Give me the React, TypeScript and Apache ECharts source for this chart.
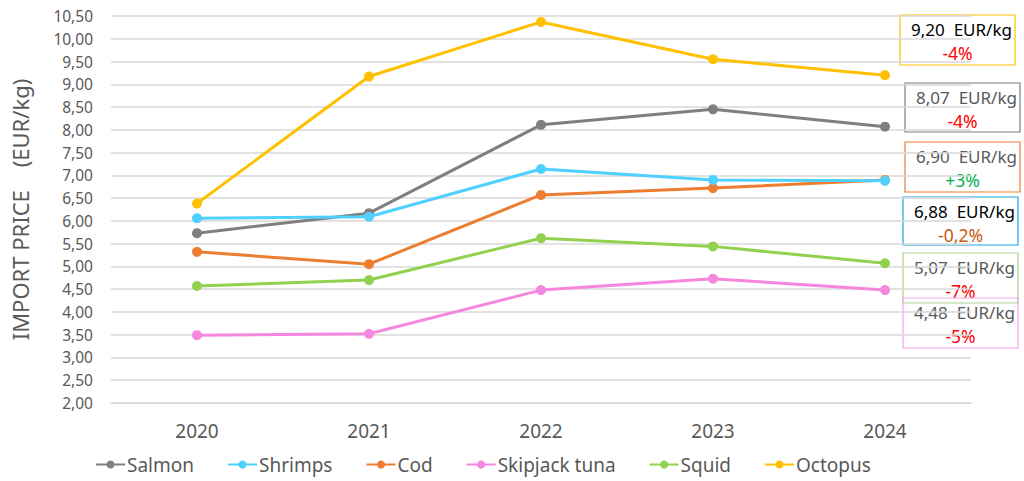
import React, { useEffect, useRef } from "react";
import * as echarts from "echarts";

const years = ["2020", "2021", "2022", "2023", "2024"];
const salmon = [5.73, 6.17, 8.11, 8.45, 8.07];
const shrimps = [6.06, 6.09, 7.14, 6.9, 6.88];
const cod = [5.32, 5.05, 6.57, 6.72, 6.9];
const tuna = [3.49, 3.52, 4.48, 4.73, 4.48];
const squid = [4.57, 4.7, 5.62, 5.44, 5.07];
const octopus = [6.38, 9.17, 10.37, 9.55, 9.2];

const seriesNames = ["Salmon", "Shrimps", "Cod", "Skipjack tuna", "Squid", "Octopus"];
const seriesData = [salmon, shrimps, cod, tuna, squid, octopus];
const seriesColors = ["#7F7F7F", "#4FD0FF", "#ED7D31", "#F587DE", "#92D050", "#FFC000"];

// annotation boxes: price label, change label
const boxPrices = ["9,20  EUR/kg", "8,07  EUR/kg", "6,90  EUR/kg", "6,88  EUR/kg", "5,07  EUR/kg", "4,48  EUR/kg"];
const boxChanges = ["-4%", "-4%", "+3%", "-0,2%", "-7%", "-5%"];
const boxBorder = ["#FFC000", "#7F7F7F", "#ED7D31", "#1CA3E3", "#A9D18E", "#F3A3E8"];
const boxPriceColor = ["#000000", "#595959", "#595959", "#000000", "#595959", "#595959"];
const boxChangeColor = ["#FF0000", "#FF0000", "#00B050", "#C55A11", "#FF0000", "#FF0000"];
const boxPos = [
  [900, 15, 115, 50],
  [905, 83, 115, 49],
  [905, 142, 115, 50],
  [903, 197, 115, 48],
  [903, 253, 115, 50],
  [903, 298, 115, 50],
];

const FONT = "Noto Sans";

export default function App() {
  const ref = useRef<HTMLDivElement>(null);
  useEffect(() => {
    if (!ref.current) return;
    const chart = echarts.init(ref.current, undefined, { renderer: "svg" });
    const graphics: any[] = [];
    boxPos.forEach((b, i) => {
      const [x, y, w, h] = b;
      graphics.push({
        type: "group",
        x,
        y,
        z: 100,
        children: [
          {
            type: "rect",
            shape: { x: 0, y: 0, width: w, height: h },
            style: { fill: "transparent", stroke: boxBorder[i], lineWidth: 1.2 },
          },
          {
            type: "text",
            x: w / 2 + 4,
            y: 14.5,
            style: {
              text: boxPrices[i],
              fill: boxPriceColor[i],
              font: `17px "${FONT}"`,
              align: "center",
              verticalAlign: "middle",
            },
          },
          {
            type: "text",
            x: w / 2,
            y: 37.5,
            style: {
              text: boxChanges[i],
              fill: boxChangeColor[i],
              font: `17.5px "${FONT}"`,
              align: "center",
              verticalAlign: "middle",
            },
          },
        ],
      });
    });

    chart.setOption({
      animation: false,
      textStyle: { fontFamily: FONT },
      grid: { left: 111, right: 53, top: 16, bottom: 78, containLabel: false },
      legend: {
        bottom: 2,
        left: 90,
        itemWidth: 29,
        itemHeight: 10,
        itemGap: 33,
        textStyle: { fontSize: 19, color: "#595959", padding: [0, 0, 0, -3] },
        data: seriesNames,
      },
      xAxis: {
        type: "category",
        data: years,
        boundaryGap: true,
        axisLine: { show: true, lineStyle: { color: "#D9D9D9", width: 1 } },
        axisTick: { show: false },
        axisLabel: { color: "#595959", fontSize: 19, margin: 18 },
      },
      yAxis: {
        type: "value",
        min: 2,
        max: 10.5,
        interval: 0.5,
        name: "IMPORT PRICE    (EUR/kg)",
        nameLocation: "middle",
        nameGap: 80,
        nameTextStyle: { fontSize: 22, color: "#595959" },
        axisLine: { show: false },
        axisTick: { show: false },
        splitLine: { lineStyle: { color: "#D9D9D9", width: 1.5 } },
        axisLabel: {
          color: "#595959",
          fontSize: 15.5,
          margin: 18,
          formatter: (v: number) => v.toFixed(2).replace(".", ","),
        },
      },
      series: seriesNames.map((n, i) => ({
        name: n,
        type: "line",
        data: seriesData[i],
        symbol: "circle",
        symbolSize: 10,
        lineStyle: { color: seriesColors[i], width: 3 },
        itemStyle: { color: seriesColors[i] },
        z: i === 1 ? 3 : 2,
      })),
      graphic: graphics,
    });
    return () => chart.dispose();
  }, []);
  return (
    <div
      ref={ref}
      style={{ width: 1024, height: 481, position: "absolute", left: 0, top: 0, background: "#fff" }}
    />
  );
}
